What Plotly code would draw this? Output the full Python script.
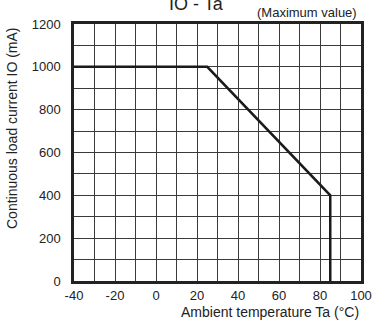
import plotly.graph_objects as go

temp = [-40, 25, 85, 85]
current = [1000, 1000, 400, 0]
x_ticks = [-40, -20, 0, 20, 40, 60, 80, 100]
y_ticks = [0, 200, 400, 600, 800, 1000, 1200]

FONT = "Liberation Sans, Arial, sans-serif"

fig = go.Figure()
fig.add_trace(go.Scatter(x=temp, y=current, mode="lines",
                         line=dict(color="#1a1a1a", width=2.5),
                         showlegend=False, hoverinfo="skip"))

axis_common = dict(showgrid=True, gridcolor="#3a3a3a", gridwidth=1, automargin=False,
                   showline=True, linecolor="#222222", linewidth=2.5, mirror=True,
                   zeroline=False, ticks="", tickfont=dict(family=FONT, size=13, color="#222"))

fig.update_xaxes(range=[-40, 100], tickvals=list(range(-40, 101, 10)),
                 ticktext=[str(v) if v in x_ticks else "" for v in range(-40, 101, 10)],
                 ticklabelstandoff=1, **axis_common)
fig.update_yaxes(range=[0, 1200], tickvals=list(range(0, 1201, 100)),
                 ticktext=[str(v) if v in y_ticks else "" for v in range(0, 1201, 100)],
                 ticklabelstandoff=8, **axis_common)

fig.update_layout(
    width=372, height=320,
    margin=dict(l=74, r=11, t=24, b=39),
    paper_bgcolor="white", plot_bgcolor="white",
    font=dict(family=FONT, color="#222"),
    annotations=[
        dict(text="IO - Ta", xref="paper", yref="paper", x=(196 - 74) / 287, y=1 + 20 / 257,
             xanchor="center", yanchor="middle", showarrow=False,
             font=dict(size=18, family=FONT, color="#222")),
        dict(text="(Maximum value)", xref="paper", yref="paper", x=(359 - 74) / 287, y=1 + 11 / 257,
             xanchor="right", yanchor="middle", showarrow=False,
             font=dict(size=13, family=FONT, color="#222")),
        dict(text="Ambient temperature Ta (°C)", xref="paper", yref="paper", x=(361 - 74) / 287,
             y=-(312 - 281) / 257, xanchor="right", yanchor="middle", showarrow=False,
             font=dict(size=14, family=FONT, color="#222")),
        dict(text="Continuous load current IO (mA)", xref="paper", yref="paper",
             x=-(74 - 12) / 287, y=(281 - 128) / 257, xanchor="center", yanchor="middle",
             textangle=-90, showarrow=False, font=dict(size=14, family=FONT, color="#222")),
    ],
)

fig.write_html("out.html")
